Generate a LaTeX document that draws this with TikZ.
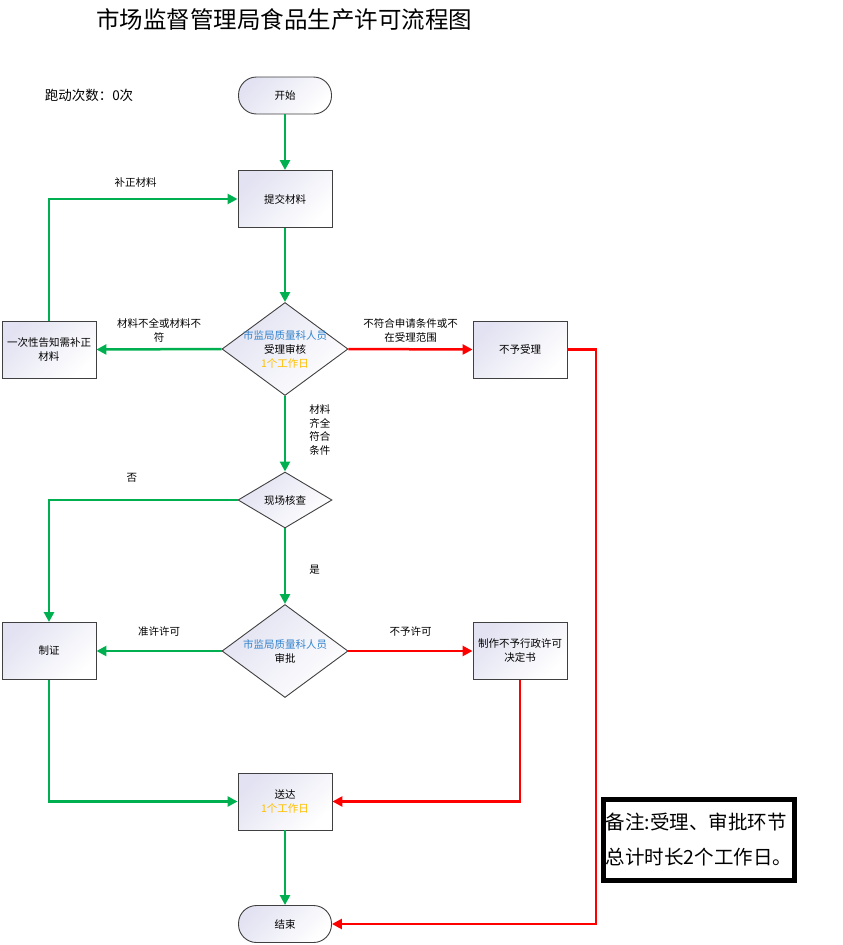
\documentclass[tikz,border=0pt]{standalone}
\usepackage{fontspec}
\setmainfont{Noto Sans CJK SC}
\usetikzlibrary{arrows.meta,shapes.geometric}
\definecolor{flowgreen}{RGB}{0,176,80}
\definecolor{flowred}{RGB}{255,0,0}
\definecolor{staffblue}{RGB}{52,132,204}
\definecolor{dayorange}{RGB}{255,192,0}
\definecolor{boxfill}{RGB}{226,226,242}

\begin{document}
\begin{tikzpicture}[x=1pt,y=-1pt]
\tikzstyle{every node}+=[inner sep=0pt,align=center,font=\fontsize{10.5}{14}\selectfont]
\tikzstyle{box}=[draw=black!75,line width=0.9pt,top color=boxfill,bottom color=white,shading angle=45,minimum width=94pt,minimum height=57pt]
\tikzstyle{term}=[box,rounded corners=18pt,minimum width=93pt,minimum height=37pt]
\tikzstyle{decide}=[box,diamond,minimum width=126pt,minimum height=93pt]
\tikzstyle{go}=[draw=flowgreen,line width=2.5pt,-{Triangle[length=10pt,width=10pt]}]
\tikzstyle{stop}=[go,draw=flowred]
\useasboundingbox (0,0) rectangle (843,945);
\node (title) at (284,20) {\fontsize{23.5}{28}\selectfont 市场监督管理局食品生产许可流程图};
\node (runs) at (89,95) {\fontsize{13.5}{16}\selectfont 跑动次数：0次};
% nodes
\node[term] (start) at (285,95.5) {开始};
\node[box] (submit) at (285,199) {提交材料};
\node[decide] (accept) at (285,349) {};
\node (accepttext) at (accept) {\textcolor{staffblue}{市监局质量科人员}\\受理审核\\\textcolor{dayorange}{1个工作日}};
\node[box] (notify) at (49,349.5) {一次性告知需补正\\材料};
\node[box] (reject) at (520,349.5) {不予受理};
\node[decide,minimum width=94pt,minimum height=56pt] (site) at (285,500) {};
\node (sitetext) at (site) {现场核查};
\node[decide] (approve) at (285,651) {};
\node (approvetext) at (approve) {\textcolor{staffblue}{市监局质量科人员}\\审批};
\node[box] (permit) at (49,651) {制证};
\node[box] (decision) at (520,651) {制作不予行政许可\\决定书};
\node[box] (deliver) at (285,801.5) {送达\\\textcolor{dayorange}{1个工作日}};
\node[term] (end) at (285,924) {结束};
\node[draw,line width=5pt,minimum width=191pt,minimum height=81pt,align=left,font=\fontsize{19.5}{35}\selectfont] (note) at (699,840) {备注:受理、审批环节\\总计时长2个工作日。};
\coordinate (rejcorner) at (596,924);
% connectors
\draw[go] (start.south) -- (submit.north);
\draw[go] (submit.south) -- (accept.north);
\draw[go] (accept.west) -- (notify.east) node[midway,above=6pt] (lackl) {材料不全或材料不\\符};
\draw[go] (notify.north) |- (submit.west) node[pos=0.73,above=10pt] (fixl) {补正材料};
\draw[stop] (accept.east) -- (reject.west) node[midway,above=6pt] (outl) {不符合申请条件或不\\在受理范围};
\draw[stop] (reject.east) -| (rejcorner) -- (end.east);
\draw[go] (accept.south) -- (site.north) node[pos=0.45,right=23pt,font=\fontsize{10.5}{13.5}\selectfont] (okl) {材料\\齐全\\符合\\条件};
\draw[go] (site.west) -| (permit.north) node[pos=0.28,above=16pt] (nol) {否};
\draw[go] (site.south) -- (approve.north) node[pos=0.55,right=23pt] (yesl) {是};
\draw[go] (approve.west) -- (permit.east) node[midway,above=13pt] (grantl) {准许许可};
\draw[stop] (approve.east) -- (decision.west) node[midway,above=13pt] (denyl) {不予许可};
\draw[go] (permit.south) |- (deliver.west);
\draw[stop] (decision.south) |- (deliver.east);
\draw[go] (deliver.south) -- (end.north);
\end{tikzpicture}
\end{document}
